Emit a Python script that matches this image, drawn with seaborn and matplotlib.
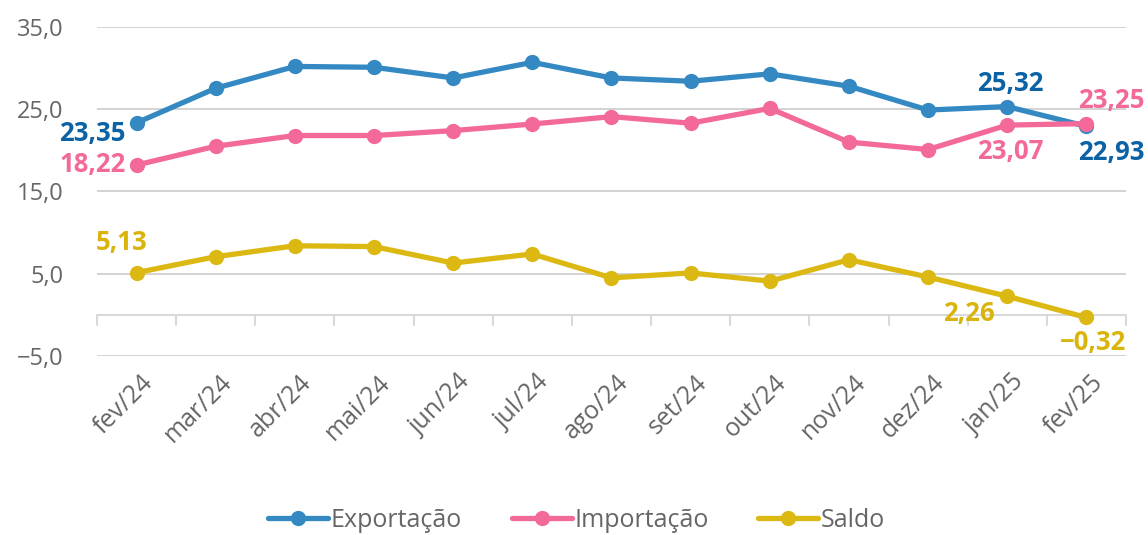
import pandas as pd
import matplotlib.pyplot as plt
import matplotlib.transforms as mtransforms
import seaborn as sns

meses = ["fev/24", "mar/24", "abr/24", "mai/24", "jun/24", "jul/24", "ago/24",
         "set/24", "out/24", "nov/24", "dez/24", "jan/25", "fev/25"]
exportacao = [23.35, 27.55, 30.2, 30.1, 28.8, 30.7, 28.8, 28.4, 29.3, 27.8, 24.9, 25.32, 22.93]
importacao = [18.22, 20.5, 21.8, 21.8, 22.4, 23.2, 24.1, 23.3, 25.1, 21.0, 20.1, 23.07, 23.25]
saldo = [5.13, 7.07, 8.4, 8.3, 6.3, 7.4, 4.5, 5.1, 4.1, 6.7, 4.6, 2.26, -0.32]

series = ["Exportação", "Importação", "Saldo"]
cores = ["#3589C3", "#F2699A", "#DCB812"]
cores_rotulo = ["#0B62A4", "#F2699A", "#D9B40C"]

df = pd.DataFrame({"mes": meses * 3,
                   "valor": exportacao + importacao + saldo,
                   "serie": sum([[s] * len(meses) for s in series], [])})
df["x"] = list(range(len(meses))) * 3

sns.set_style("white")
plt.rcParams["font.family"] = ["Open Sans", "DejaVu Sans"]

fig = plt.figure(figsize=(11.48, 5.35), dpi=100)
ax = fig.add_axes([0.0845, 0.3346, 0.8963, 0.615])

sns.lineplot(data=df, x="x", y="valor", hue="serie", palette=cores,
             marker="o", markersize=11, markeredgewidth=0, linewidth=3.8,
             ax=ax, legend=True)

ax.set_xlim(-0.5, len(meses) - 0.5)
ax.set_ylim(-5, 35)
ax.set_yticks([-5, 5, 15, 25, 35])
ax.set_yticklabels([f"{v:.1f}".replace(".", ",").replace("-", "−") for v in [-5, 5, 15, 25, 35]],
                   fontsize=17, color="#666666")
for v in [-5, 5, 15, 25, 35]:
    ax.axhline(v, color="#CCCCCC", linewidth=1.2, zorder=0)
ax.axhline(0, color="#D9D9D9", linewidth=1.5, zorder=0)
for b in range(len(meses) + 1):
    ax.plot([b - 0.5, b - 0.5], [0, -1.2], color="#D9D9D9", linewidth=1.5,
            clip_on=False, zorder=0)

ax.set_xticks(range(len(meses)))
ax.set_xticklabels(meses, rotation=45, ha="right", rotation_mode="anchor",
                   fontsize=18, color="#666666")
ax.tick_params(axis="x", length=0, pad=10)
ax.tick_params(axis="y", length=0, pad=24)
desloc = mtransforms.ScaledTranslation(4 / 100, 0, fig.dpi_scale_trans)
for t in ax.get_xticklabels():
    t.set_transform(t.get_transform() + desloc)
for s in ax.spines.values():
    s.set_visible(False)
ax.set_xlabel("")
ax.set_ylabel("")


def fmt(v):
    return f"{v:.2f}".replace(".", ",").replace("-", "−")


# rotulos: (serie, indice, deslocamento em pontos, alinhamento)
rotulos = [
    (0, 0, (-8, -8), "right", "center"),
    (1, 0, (-8, 0), "right", "center"),
    (2, 0, (-11, 12), "center", "bottom"),
    (0, 11, (2, 7), "center", "bottom"),
    (1, 11, (2, -9), "center", "top"),
    (2, 11, (-9, -3), "right", "top"),
    (0, 12, (-6, -9), "left", "top"),
    (1, 12, (-6, 7), "left", "bottom"),
    (2, 12, (5, -8), "center", "top"),
]
valores = [exportacao, importacao, saldo]
for si, i, off, ha, va in rotulos:
    ax.annotate(fmt(valores[si][i]), (i, valores[si][i]), xytext=off,
                textcoords="offset points", ha=ha, va=va, fontsize=18.5,
                fontweight="bold", color=cores_rotulo[si], annotation_clip=False)

handles, labels = ax.get_legend_handles_labels()
ax.legend(handles, labels, loc="center", bbox_to_anchor=(0.466, -0.5), ncol=3,
          frameon=False, fontsize=18, labelcolor="#666666", handlelength=2.4,
          handletextpad=0.1, columnspacing=2.0)

fig.savefig("out.png", dpi=100)
